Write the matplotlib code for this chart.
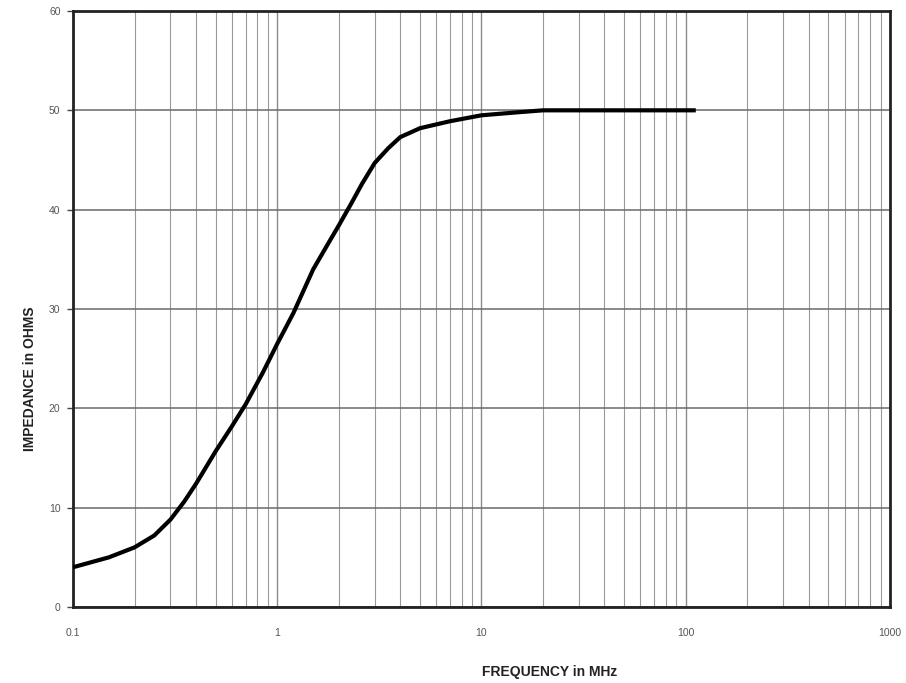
import numpy as np
import matplotlib
matplotlib.use('Agg')
from matplotlib import pyplot as plt
from matplotlib.ticker import LogLocator, FixedLocator, NullFormatter

# impedance curve
freq_mhz = [0.1, 0.15, 0.2, 0.25, 0.3, 0.35, 0.4, 0.5, 0.6, 0.7, 0.85, 1.0,
            1.2, 1.5, 1.8, 2.0, 2.3, 2.6, 3.0, 3.5, 4.0, 5.0, 7.0, 10.0,
            15.0, 20.0, 30.0, 50.0, 112.0]
impedance = [4.0, 5.0, 6.0, 7.2, 8.8, 10.6, 12.4, 15.7, 18.2, 20.4, 23.6, 26.5,
             29.6, 34.0, 36.8, 38.4, 40.6, 42.6, 44.7, 46.2, 47.3, 48.2, 48.9, 49.5,
             49.8, 50.0, 50.0, 50.0, 50.0]

x_ticks = [0.1, 1, 10, 100, 1000]
x_tick_labels = ['0.1', '1', '10', '100', '1000']
y_ticks = [0, 10, 20, 30, 40, 50, 60]

plt.rcParams['font.family'] = ['Liberation Sans', 'DejaVu Sans']

fig = plt.figure(figsize=(9.06, 6.83), dpi=100)
ax = fig.add_axes([0.0806, 0.1113, 0.9017, 0.8726])

ax.plot(freq_mhz, impedance, color='black', lw=3.0, solid_capstyle='butt',
        solid_joinstyle='round', zorder=3)

ax.set_xscale('log')
ax.set_xlim(0.1, 1000)
ax.set_ylim(0, 60)

ax.xaxis.set_major_locator(FixedLocator(x_ticks))
ax.set_xticklabels(x_tick_labels)
ax.xaxis.set_minor_locator(LogLocator(base=10, subs=np.arange(2, 10)))
ax.xaxis.set_minor_formatter(NullFormatter())
ax.set_yticks(y_ticks)

ax.grid(which='major', axis='x', color='#8a8a8a', lw=1.0)
ax.grid(which='minor', axis='x', color='#9a9a9a', lw=0.8)
ax.grid(which='major', axis='y', color='#6a6a6a', lw=1.1)

for s in ax.spines.values():
    s.set_linewidth(2.0)
    s.set_color('#222222')

ax.tick_params(axis='both', which='major', length=4, width=1, color='#444444',
               labelsize=7.5, labelcolor='#555555', pad=5)
ax.tick_params(axis='x', which='minor', length=0)
ax.tick_params(axis='x', which='major', length=0, pad=15)

fig.text(0.607, 0.006, 'FREQUENCY in MHz', fontsize=10, fontweight='bold',
         color='#222222', ha='center', va='bottom')
fig.text(0.033, 0.445, 'IMPEDANCE in OHMS', fontsize=10, fontweight='bold',
         color='#222222', ha='center', va='center', rotation=90)

fig.savefig('out.png', dpi=100)
